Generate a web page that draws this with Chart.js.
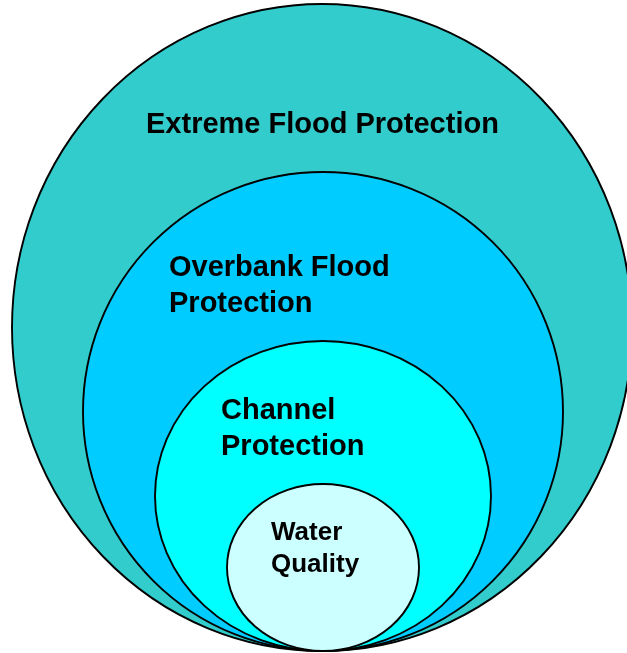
<!DOCTYPE html>
<html>
<head>
<meta charset="utf-8">
<script src="https://cdn.jsdelivr.net/npm/chart.js@4/dist/chart.umd.min.js"></script>
<style>
  html, body { margin: 0; padding: 0; background: #fff; }
  canvas { display: block; }
</style>
</head>
<body>
<canvas id="myChart" width="627" height="653"></canvas>
<script>
// nested rings, outer to inner (diagram units = reference pixels)
const ringNames = ['Extreme Flood Protection', 'Overbank Flood\nProtection', 'Channel\nProtection', 'Water\nQuality'];
const ringCenterX = [322, 323, 323, 323];
const ringCenterY = [327.5, 411.5, 496, 567.5];
const ringRadiusX = [310, 240, 168, 96];
const ringRadiusY = [323.5, 239.5, 155, 83.5];

// styling, kept apart from the values
const ringColors = ['#33CCCC', '#00CCFF', '#00FFFF', '#CCFFFF'];
const labelAnchors = [[146, 133], [169, 276], [221, 419], [271, 540]];
const labelSizes = [29, 29, 29, 26];
const lineGap = [0, 36, 36, 32];

const ringsPlugin = {
    id: 'rings',
    beforeDatasetsDraw(chart) {
        const ctx = chart.ctx;
        const xs = chart.scales.x, ys = chart.scales.y;
        chart.data.datasets[0].data.forEach((p, i) => {
            const px = xs.getPixelForValue(p.x);
            const py = ys.getPixelForValue(p.y);
            const rx = Math.abs(xs.getPixelForValue(p.x + p.rx) - px);
            const ry = Math.abs(ys.getPixelForValue(p.y + p.ry) - py);
            ctx.save();
            ctx.beginPath();
            ctx.ellipse(px, py, rx, ry, 0, 0, Math.PI * 2);
            ctx.fillStyle = ringColors[i];
            ctx.fill();
            ctx.lineWidth = 1.9;
            ctx.strokeStyle = '#000';
            ctx.stroke();
            ctx.restore();
        });
    },
    afterDatasetsDraw(chart) {
        const ctx = chart.ctx;
        const xs = chart.scales.x, ys = chart.scales.y;
        ringNames.forEach((name, i) => {
            ctx.save();
            ctx.fillStyle = '#000';
            ctx.font = 'bold ' + labelSizes[i] + 'px "Liberation Sans", Arial, sans-serif';
            ctx.textAlign = 'left';
            ctx.textBaseline = 'alphabetic';
            name.split('\n').forEach((line, k) => {
                const lx = xs.getPixelForValue(labelAnchors[i][0]);
                const ly = ys.getPixelForValue(labelAnchors[i][1] + k * lineGap[i]);
                ctx.fillText(line, lx, ly);
            });
            ctx.restore();
        });
    }
};

const ctx = document.getElementById('myChart').getContext('2d');
const myChart = new Chart(ctx, {
    type: 'scatter',
    data: {
        datasets: [{
            label: 'Rings',
            data: ringNames.map((n, i) => ({
                x: ringCenterX[i], y: ringCenterY[i], rx: ringRadiusX[i], ry: ringRadiusY[i]
            })),
            pointRadius: 0,
            pointHoverRadius: 0
        }]
    },
    options: {
        responsive: false,
        animation: false,
        events: [],
        layout: { padding: 0 },
        plugins: { legend: { display: false }, tooltip: { enabled: false } },
        scales: {
            x: { type: 'linear', min: 0, max: 627, display: false },
            y: { type: 'linear', min: 0, max: 653, reverse: true, display: false }
        }
    },
    plugins: [ringsPlugin]
});
</script>
</body>
</html>
